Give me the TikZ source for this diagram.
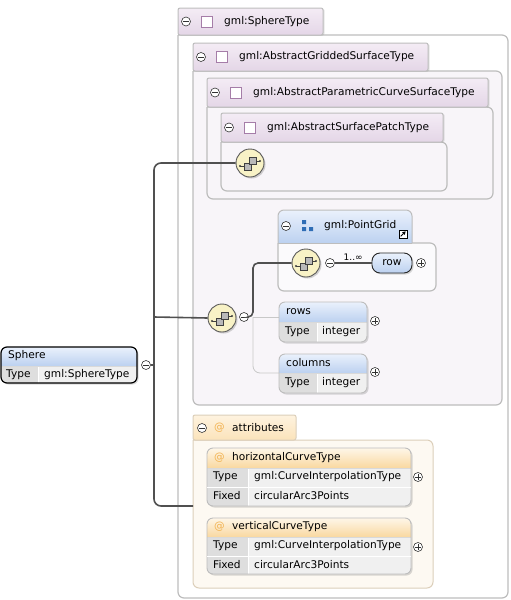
\documentclass[tikz,border=0pt]{standalone}
\usepackage{fontspec}
\setmainfont{DejaVu Sans}
\usetikzlibrary{shadows,arrows.meta}
\definecolor{lavTop}{HTML}{F4ECF5}
\definecolor{lavBot}{HTML}{E4D6E7}
\definecolor{lavBody}{HTML}{F8F5F9}
\definecolor{lavIcon}{HTML}{A57DA8}
\definecolor{boxLine}{HTML}{BDBDBD}
\definecolor{blueTop}{HTML}{EAF1FC}
\definecolor{blueBot}{HTML}{BCD1F0}
\definecolor{blueIcon}{HTML}{2F6DB5}
\definecolor{seqFill}{HTML}{F8F2C6}
\definecolor{seqLine}{HTML}{5A5A5A}
\definecolor{connCol}{HTML}{505050}
\definecolor{thinCol}{HTML}{C8C8C8}
\definecolor{orTabTop}{HTML}{FEF3E0}
\definecolor{orTabBot}{HTML}{FBE3BA}
\definecolor{orBody}{HTML}{FDF9F2}
\definecolor{orLine}{HTML}{DCCFBA}
\definecolor{orHeadTop}{HTML}{FEF6E8}
\definecolor{orHeadBot}{HTML}{F9D8A0}
\definecolor{atCol}{HTML}{F2B352}
\definecolor{labCell}{HTML}{DEDEDE}
\definecolor{valCell}{HTML}{F0F0F0}
\tikzset{
  bodyline/.style={draw=boxLine, line width=1.2pt},
  tabline/.style={draw=boxLine, line width=1pt},
  lavtabst/.style={tabline, top color=lavTop, bottom color=lavBot, rounded corners=2pt,
    drop shadow={shadow xshift=1.5pt, shadow yshift=-0.5pt, opacity=.2}},
  pmbase/.style={circle, draw=black!80, fill=white, line width=.6pt, inner sep=0pt, minimum size=9pt},
  minus/.style={pmbase, path picture={\draw[line width=.7pt] ([xshift=-2.6pt]path picture bounding box.center) -- ([xshift=2.6pt]path picture bounding box.center);}},
  plus/.style={pmbase, path picture={\draw[line width=.7pt] ([xshift=-2.6pt]path picture bounding box.center) -- ([xshift=2.6pt]path picture bounding box.center) ([yshift=-2.6pt]path picture bounding box.center) -- ([yshift=2.6pt]path picture bounding box.center);}},
  sqicon/.style={draw=lavIcon, fill=white, line width=.8pt, minimum size=11pt, inner sep=0pt},
  seq/.style={circle, draw=seqLine, fill=seqFill, line width=.9pt, minimum size=28pt, inner sep=0pt,
    drop shadow={shadow xshift=1.5pt, shadow yshift=-1.5pt, opacity=.35}},
  conn/.style={draw=connCol, line width=1.6pt, rounded corners=7pt},
  thinc/.style={draw=thinCol, line width=.8pt, rounded corners=7pt},
  lbl/.style={anchor=west, inner sep=0pt},
  bluehead/.style={top color=blueTop, bottom color=blueBot},
  orhead/.style={top color=orHeadTop, bottom color=orHeadBot},
}
\newcommand{\tbody}[5]{\draw[bodyline, fill=#1, rounded corners=6pt] (#2,#3) -- (#4,#3) -- (#4,#5) -- (#2,#5) -- (#2,#3);}
\newcommand{\lavtab}[6]{%
  \draw[lavtabst] (#2,#3) rectangle (#4,#5);
  \node[minus] (#1-m) at (#2+8,{(#3+#5)/2}) {};
  \node[sqicon] (#1-s) at (#2+29,{(#3+#5)/2}) {};
  \node[lbl] (#1) at (#2+46,{(#3+#5)/2}) {#6};}
\newcommand{\seqglyph}[1]{%
  \begin{scope}[shift={(#1.center)}]
    \draw[black!75, line width=.7pt] (-10,3) -- (-4,3) (4,-2) -- (10,-2);
    \fill[black!75] (-10,3) circle (1.2pt) (10,-2) circle (1.2pt);
    \draw[black!75, fill=gray!55, line width=.7pt] (-6,0) rectangle (1,7);
    \draw[black!75, fill=gray!55, line width=.7pt] (-1,-6) rectangle (6,1);
  \end{scope}}
% x1 y1 x2 y2 yh xdiv headerstyle borderstyle
\newcommand{\tblbox}[8]{%
  \path[rounded corners=6pt, fill=white, drop shadow={shadow xshift=1.5pt, shadow yshift=-1.5pt, opacity=.3}] (#1,#2) rectangle (#3,#4);
  \begin{scope}
    \clip[rounded corners=6pt] (#1,#2) rectangle (#3,#4);
    \fill[valCell] (#1,#5) rectangle (#3,#4);
    \fill[labCell] (#1,#5) rectangle (#6,#4);
    \shade[#7] (#1,#2) rectangle (#3,#5);
    \draw[white, line width=.8pt] (#6,#5) -- (#6,#4);
    \draw[black!15, line width=.5pt] (#1,#5) -- (#3,#5);
  \end{scope}
  \draw[#8, rounded corners=6pt] (#1,#2) rectangle (#3,#4);}
\begin{document}
\begin{tikzpicture}[x=1pt, y=-1pt, font=\fontsize{10.6}{12}\selectfont]
\useasboundingbox (0,0) rectangle (511,600);
% nested type boxes
\tbody{white}{178}{35}{508}{598}
\lavtab{sph}{178}{8}{323}{35}{gml:SphereType}
\tbody{lavBody}{193}{71}{502}{405}
\lavtab{grid}{193}{43}{428}{71}{gml:AbstractGriddedSurfaceType}
\tbody{lavBody}{207}{107}{493}{199}
\lavtab{par}{207}{78}{488}{107}{gml:AbstractParametricCurveSurfaceType}
\tbody{lavBody}{221}{142}{447}{191}
\lavtab{patch}{221}{113}{443}{142}{gml:AbstractSurfacePatchType}
% PointGrid
\tbody{white!50!lavBody}{278}{243}{436}{291}
\path[tabline, top color=blueTop, bottom color=blueBot, rounded corners=6pt] (278,243) -- (278,210) -- (412,210) -- (412,243);
\draw[tabline] (278,243) -- (412,243);
\node[minus] (pg-m) at (286,226) {};
\fill[blueIcon] (302,220) rectangle (306,224) (302,227) rectangle (306,231) (309,227) rectangle (313,231);
\node[lbl] (pg) at (324,226) {gml:PointGrid};
\node[draw=black, fill=white, line width=.7pt, minimum size=8pt, inner sep=0pt] (lnk) at (403,234) {};
\draw[line width=1pt, -{Triangle[length=3pt,width=3.5pt]}] ([shift={(-2.3pt,-2.3pt)}]lnk.center) -- ([shift={(2.6pt,2.6pt)}]lnk.center);
% attributes group
\draw[line width=1pt, draw=orLine, fill=orBody, rounded corners=6pt] (193,440) -- (433,440) -- (433,588) -- (193,588) -- (193,440);
\draw[line width=1pt, draw=orLine, top color=orTabTop, bottom color=orTabBot, rounded corners=2pt] (193,415) rectangle (296,440);
\node[minus] (at-m) at (202,428) {};
\node[lbl, text=atCol] (at-a) at (214,428) {@};
\node[lbl] (attrs) at (232,428) {attributes};
% connectors
\coordinate (trunk) at (154,317);
\coordinate (attrin) at (193,506);
\coordinate (branch) at (253,317);
\coordinate (rowsin) at (279,317);
\coordinate (colsin) at (279,373);
\node[seq] (seq1) at (250,163) {};
\node[seq] (seq2) at (222,318) {};
\node[seq] (seq3) at (306,263) {};
\node[minus] (m2) at (244,317) {};
\node[minus] (m3) at (330,263) {};
\node[minus] (sphm) at (146,365) {};
\draw[thinc] (branch) -- (rowsin);
\draw[thinc] (branch) |- (colsin);
\draw[conn] (seq1.west) -| (trunk) |- (attrin);
\draw[conn] (trunk) -- (seq2.west);
\draw[conn] (sphm.east) -- (sphm.east -| trunk);
\draw[conn, rounded corners=5pt] (m2.east) -- (branch) |- (seq3.west);
\seqglyph{seq1}
\seqglyph{seq2}
\seqglyph{seq3}
% row element
\node[draw=black!85, line width=.9pt, rounded corners=8pt, top color=blueTop, bottom color=blueBot, minimum width=40pt, minimum height=20pt, inner sep=0pt, drop shadow={shadow xshift=1.5pt, shadow yshift=-1.5pt, opacity=.3}] (row) at (392,263) {row};
\draw[conn] (m3.east) -- node[above, inner sep=1.5pt, font=\fontsize{9}{10}\selectfont] (mult) {1..∞} (row.west);
\node[plus] (rowp) at (421,263) {};
% rows
\tblbox{279}{302}{367}{342}{322}{317}{bluehead}{draw=boxLine, line width=.9pt}
\node[lbl] (rows) at (286,312) {rows};
\node[lbl] (rows-t) at (285,332) {Type};
\node[lbl] (rows-v) at (322,332) {integer};
\node[plus] (rows-p) at (375,321) {};
% columns
\tblbox{279}{354}{367}{393}{373}{317}{bluehead}{draw=boxLine, line width=.9pt}
\node[lbl] (cols) at (286,363) {columns};
\node[lbl] (cols-t) at (285,383) {Type};
\node[lbl] (cols-v) at (322,383) {integer};
\node[plus] (cols-p) at (375,372) {};
% Sphere
\tblbox{1}{347}{137}{383}{366}{38}{bluehead}{draw=black, line width=1.2pt}
\node[lbl] (sphere) at (8,356) {Sphere};
\node[lbl] (sphere-t) at (6,375) {Type};
\node[lbl] (sphere-v) at (44,375) {gml:SphereType};
% horizontalCurveType
\tblbox{207}{448}{411}{506}{468}{248}{orhead}{draw=boxLine, line width=.9pt}
\draw[white, line width=.8pt] (207,487) -- (411,487);
\node[lbl, text=atCol] (h-a) at (214,458) {@};
\node[lbl] (hct) at (232,458) {horizontalCurveType};
\node[lbl] (hct-t) at (213,477) {Type};
\node[lbl] (hct-tv) at (254,477) {gml:CurveInterpolationType};
\node[lbl] (hct-f) at (213,496) {Fixed};
\node[lbl] (hct-fv) at (254,496) {circularArc3Points};
\node[plus] (hct-p) at (418,477) {};
% verticalCurveType
\tblbox{207}{518}{411}{574}{537}{248}{orhead}{draw=boxLine, line width=.9pt}
\draw[white, line width=.8pt] (207,556) -- (411,556);
\node[lbl, text=atCol] (v-a) at (214,527) {@};
\node[lbl] (vct) at (232,527) {verticalCurveType};
\node[lbl] (vct-t) at (213,546) {Type};
\node[lbl] (vct-tv) at (254,546) {gml:CurveInterpolationType};
\node[lbl] (vct-f) at (213,565) {Fixed};
\node[lbl] (vct-fv) at (254,565) {circularArc3Points};
\node[plus] (vct-p) at (418,547) {};
\end{tikzpicture}
\end{document}
